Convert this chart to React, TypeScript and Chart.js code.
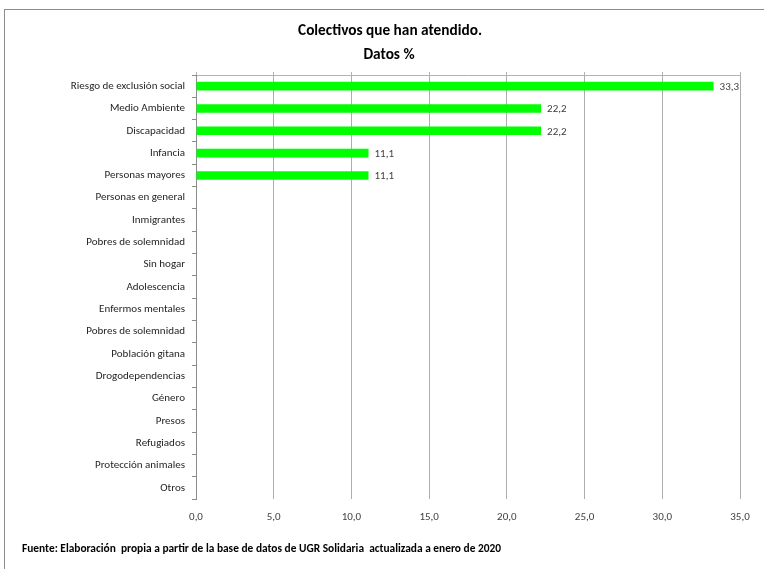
import React, { useEffect, useRef } from "react";
import { Chart, registerables } from "chart.js";

Chart.register(...registerables);

const categories: string[] = [
  "Riesgo de exclusión social",
  "Medio Ambiente",
  "Discapacidad",
  "Infancia",
  "Personas mayores",
  "Personas en general",
  "Inmigrantes",
  "Pobres de solemnidad",
  "Sin hogar",
  "Adolescencia",
  "Enfermos mentales",
  "Pobres de solemnidad",
  "Población gitana",
  "Drogodependencias",
  "Género",
  "Presos",
  "Refugiados",
  "Protección animales",
  "Otros",
];

const values: number[] = [33.3, 22.2, 22.2, 11.1, 11.1, 0, 0, 0, 0, 0, 0, 0, 0, 0, 0, 0, 0, 0, 0];

const titleLines: string[] = ["Colectivos que han atendido.", "Datos %"];
const footerText = "Fuente: Elaboración  propia a partir de la base de datos de UGR Solidaria  actualizada a enero de 2020";

const FONT = "Carlito, 'Liberation Sans', sans-serif";
const fmt = (v: number) => v.toFixed(1).replace(".", ",");

const textPlugin = {
  id: "texts",
  afterDraw(chart: any) {
    const ctx = chart.ctx as CanvasRenderingContext2D;
    ctx.save();
    ctx.fillStyle = "#000";
    ctx.textAlign = "center";
    ctx.textBaseline = "middle";
    ctx.font = `bold 15.3px ${FONT}`;
    ctx.fillText(titleLines[0], 390, 31.5);
    ctx.fillText(titleLines[1], 389, 55.5);
    ctx.textAlign = "left";
    ctx.font = `bold 11.4px ${FONT}`;
    ctx.fillText(footerText, 22, 549);
    const meta = chart.getDatasetMeta(0);
    ctx.font = `11px ${FONT}`;
    ctx.fillStyle = "#404040";
    meta.data.forEach((bar: any, i: number) => {
      const v = values[i];
      if (!v) return;
      ctx.fillText(fmt(v), bar.x + 6, bar.y + 1);
    });
    ctx.restore();
  },
};

export default function App() {
  const ref = useRef<HTMLCanvasElement>(null);
  useEffect(() => {
    if (!ref.current) return;
    const chart = new Chart(ref.current, {
      type: "bar",
      data: {
        labels: categories,
        datasets: [
          {
            data: values,
            backgroundColor: "#00ff00",
            borderWidth: 0,
            barPercentage: 0.8,
            categoryPercentage: 0.48,
          },
        ],
      },
      options: {
        indexAxis: "y",
        animation: false,
        responsive: false,
        devicePixelRatio: 1,
        layout: { padding: { left: 0, top: 75, right: 24, bottom: 30 } },
        plugins: {
          legend: { display: false },
          tooltip: { enabled: false },
          title: { display: false },
        },
        scales: {
          x: {
            min: 0,
            max: 35,
            position: "bottom",
            afterFit: (s: any) => {
              s.height = 40;
            },
            ticks: {
              stepSize: 5,
              color: "#404040",
              font: { family: FONT, size: 11 },
              padding: 12,
              callback: (v: any) => fmt(Number(v)),
            },
            grid: { color: "#adadad", drawTicks: false, lineWidth: 1 },
            border: { display: false },
          },
          x2: {
            min: 0,
            max: 35,
            position: "top",
            afterFit: (s: any) => {
              s.height = 0;
            },
            ticks: { stepSize: 5, display: false },
            grid: { drawOnChartArea: false, color: "#b3b3b3", tickLength: 3 },
            border: { display: true, color: "#b3b3b3" },
          },
          y: {
            afterFit: (s: any) => {
              s.width = 196;
            },
            ticks: {
              color: "#1f1f1f",
              font: { family: FONT, size: 11 },
              padding: 7,
              autoSkip: false,
            },
            grid: {
              offset: true,
              drawOnChartArea: false,
              color: "#8c8c8c",
              tickLength: 4,
            },
            border: { display: true, color: "#8c8c8c" },
          },
        },
      },
      plugins: [textPlugin],
    } as any);
    return () => chart.destroy();
  }, []);

  return (
    <div
      style={{
        position: "fixed",
        left: 0,
        top: 0,
        width: 764,
        height: 569,
        overflow: "hidden",
        background: "#fff",
      }}
    >
      <div
        style={{
          position: "absolute",
          left: 4,
          top: 9,
          width: 800,
          height: 600,
          border: "1px solid #8c8c8c",
          boxSizing: "border-box",
        }}
      />
      <canvas ref={ref} width={764} height={569} style={{ position: "absolute", left: 0, top: 0 }} />
    </div>
  );
}
